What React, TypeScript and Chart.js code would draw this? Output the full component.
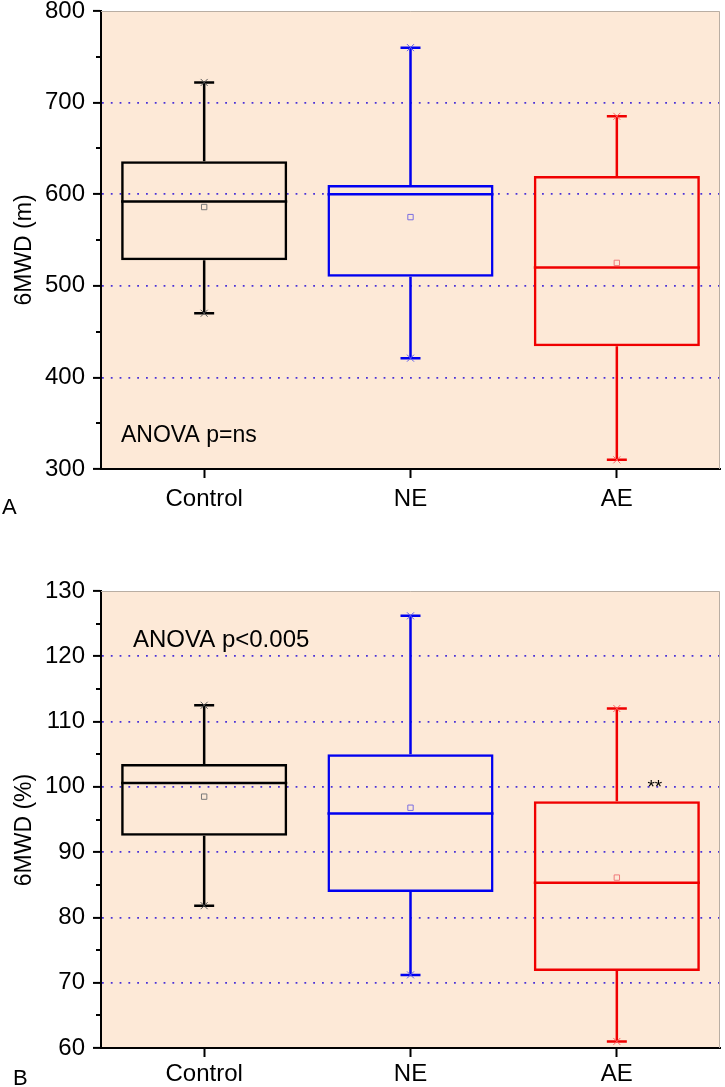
import React, { useEffect, useRef } from 'react';
import { Chart, registerables } from 'chart.js';
Chart.register(...registerables);

const FONT = '"Liberation Sans", Arial, Helvetica, sans-serif';
const PLOT_BG = '#FDE9D7';
const GRID_COLOR = '#4a32d8';
const FRAME_COLOR = '#b9aea3';

const categories = ['Control', 'NE', 'AE'];
const boxColors = ['#000000', '#0000f0', '#f00000'];
const meanColors = ['#7a7a7a', '#7a6ee0', '#f07a7a'];
const capMarkColors = ['#555555', '#5a5af0', '#ff6060'];

// Panel A: 6MWD (m)
const walkMin = [470, 421, 310];
const walkQ1 = [528, 510, 434];
const walkMedian = [592, 600, 520];
const walkQ3 = [636, 610, 620];
const walkMax = [722, 760, 685];
const walkMean = [586, 575, 525];

// Panel B: 6MWD (%)
const pctMin = [81.8, 71.2, 61];
const pctQ1 = [92.5, 83.9, 71.8];
const pctMedian = [100.6, 95.9, 85.3];
const pctQ3 = [103.5, 105, 97.8];
const pctMax = [112.5, 126.2, 112];
const pctMean = [98.5, 96.8, 86.1];

type Panel = {
  min: number[]; q1: number[]; median: number[]; q3: number[]; max: number[]; mean: number[];
  yMin: number; yMax: number; major: number; minor: number;
  yTitle: string; panelLabel: string; note: string; noteSize: number;
  star: string | null;
  height: number; padTop: number; xAxisHeight: number; xLabelPad: number;
  titleCenterY: number; labelX: number; labelBaseline: number; noteX: number; noteBaseline: number;
};

const panelA: Panel = {
  min: walkMin, q1: walkQ1, median: walkMedian, q3: walkQ3, max: walkMax, mean: walkMean,
  yMin: 300, yMax: 800, major: 100, minor: 50,
  yTitle: '6MWD (m)', panelLabel: 'A', note: 'ANOVA p=ns', noteSize: 23, star: null,
  height: 540, padTop: 11, xAxisHeight: 71, xLabelPad: 7,
  titleCenterY: 250, labelX: 2, labelBaseline: 514, noteX: 121, noteBaseline: 442,
};

const panelB: Panel = {
  min: pctMin, q1: pctQ1, median: pctMedian, q3: pctQ3, max: pctMax, mean: pctMean,
  yMin: 60, yMax: 130, major: 10, minor: 5,
  yTitle: '6MWD (%)', panelLabel: 'B', note: 'ANOVA p<0.005', noteSize: 24, star: '**',
  height: 547, padTop: 51, xAxisHeight: 39, xLabelPad: 3,
  titleCenterY: 290, labelX: 13, labelBaseline: 545, noteX: 133, noteBaseline: 107,
};

const isMajor = (v: number, p: Panel) => Math.abs(v / p.major - Math.round(v / p.major)) < 1e-6;

function makePlugin(p: Panel) {
  return {
    id: 'boxDecor',
    beforeDraw(chart: any) {
      const { ctx, chartArea: a } = chart;
      ctx.save();
      ctx.fillStyle = PLOT_BG;
      ctx.fillRect(a.left, a.top, a.right - a.left, a.bottom - a.top);
      ctx.restore();
    },
    afterDatasetsDraw(chart: any) {
      const ctx = chart.ctx;
      const ys = chart.scales.y;
      const meta = chart.getDatasetMeta(1);
      meta.data.forEach((bar: any, i: number) => {
        const { x, width } = bar.getProps(['x', 'width'], true);
        const yMed = ys.getPixelForValue(p.median[i]);
        const yQ1 = ys.getPixelForValue(p.q1[i]);
        const yQ3 = ys.getPixelForValue(p.q3[i]);
        const yMax = ys.getPixelForValue(p.max[i]);
        const yMin = ys.getPixelForValue(p.min[i]);
        ctx.save();
        ctx.strokeStyle = boxColors[i];
        ctx.lineWidth = 2.5;
        ctx.lineCap = 'butt';
        ctx.beginPath();
        ctx.moveTo(x - width / 2, yMed); ctx.lineTo(x + width / 2, yMed);
        ctx.moveTo(x, yQ3); ctx.lineTo(x, yMax);
        ctx.moveTo(x, yQ1); ctx.lineTo(x, yMin);
        ctx.moveTo(x - 10, yMax); ctx.lineTo(x + 10, yMax);
        ctx.moveTo(x - 10, yMin); ctx.lineTo(x + 10, yMin);
        ctx.stroke();
        ctx.strokeStyle = capMarkColors[i];
        ctx.lineWidth = 1;
        ctx.beginPath();
        [yMax, yMin].forEach((yy) => {
          ctx.moveTo(x - 3.5, yy - 3.5); ctx.lineTo(x + 3.5, yy + 3.5);
          ctx.moveTo(x - 3.5, yy + 3.5); ctx.lineTo(x + 3.5, yy - 3.5);
        });
        ctx.stroke();
        ctx.restore();
        if (p.star && i === 2) {
          ctx.save();
          ctx.fillStyle = '#000';
          ctx.font = `19px ${FONT}`;
          ctx.textAlign = 'center';
          ctx.textBaseline = 'alphabetic';
          ctx.fillText(p.star, x + 38, yQ3 - 8);
          ctx.restore();
        }
      });
    },
    afterDraw(chart: any) {
      const { ctx, chartArea: a } = chart;
      const ys = chart.scales.y;
      ctx.save();
      ctx.strokeStyle = FRAME_COLOR;
      ctx.lineWidth = 1;
      ctx.beginPath();
      ctx.moveTo(a.left, a.top + 0.5);
      ctx.lineTo(a.right - 0.5, a.top + 0.5);
      ctx.lineTo(a.right - 0.5, a.bottom);
      ctx.stroke();
      ctx.strokeStyle = '#000';
      ctx.lineWidth = 2;
      ctx.beginPath();
      ys.ticks.forEach((t: any) => {
        if (!isMajor(t.value, p)) {
          const yy = Math.round(ys.getPixelForValue(t.value));
          ctx.moveTo(a.left - 5, yy);
          ctx.lineTo(a.left, yy);
        }
      });
      ctx.stroke();
      ctx.fillStyle = '#000';
      ctx.font = `${p.noteSize}px ${FONT}`;
      ctx.textAlign = 'left';
      ctx.textBaseline = 'alphabetic';
      ctx.fillText(p.note, p.noteX, p.noteBaseline);
      ctx.font = `22px ${FONT}`;
      ctx.fillText(p.panelLabel, p.labelX, p.labelBaseline);
      ctx.translate(31, p.titleCenterY);
      ctx.rotate(-Math.PI / 2);
      ctx.font = `23px ${FONT}`;
      ctx.textAlign = 'center';
      ctx.fillText(p.yTitle, 0, 0);
      ctx.restore();
    },
  };
}

function BoxPanel({ p, top }: { p: Panel; top: number }) {
  const ref = useRef<HTMLCanvasElement | null>(null);
  useEffect(() => {
    if (!ref.current) return;
    const chart = new Chart(ref.current, {
      type: 'bar',
      data: {
        labels: categories,
        datasets: [
          {
            type: 'line',
            data: p.mean,
            showLine: false,
            pointStyle: 'rect',
            pointRadius: 3.8,
            pointBorderWidth: 1,
            pointBorderColor: meanColors,
            pointBackgroundColor: 'rgba(0,0,0,0)',
          } as any,
          {
            type: 'bar',
            data: p.q1.map((v, i) => [v, p.q3[i]]),
            backgroundColor: 'rgba(0,0,0,0)',
            borderColor: boxColors,
            borderWidth: 2.5,
            borderSkipped: false,
            barPercentage: 0.805,
            categoryPercentage: 1,
            inflateAmount: 0,
          } as any,
        ],
      },
      options: {
        responsive: false,
        animation: false,
        devicePixelRatio: 1,
        layout: { padding: { top: p.padTop, right: 2, left: 0, bottom: 0 } },
        plugins: { legend: { display: false }, tooltip: { enabled: false } },
        scales: {
          x: {
            type: 'category',
            offset: true,
            afterFit: (s: any) => {
              s.height = p.xAxisHeight;
              s.paddingLeft = 0; s.paddingRight = 0; s.paddingTop = 0; s.paddingBottom = 0;
            },
            ticks: { color: '#000', font: { size: 24, family: FONT }, padding: p.xLabelPad, maxRotation: 0 },
            grid: {
              display: true, drawOnChartArea: false, drawTicks: true, offset: false,
              tickLength: 9, tickColor: '#000', tickWidth: 2,
            },
            border: { display: true, color: '#000', width: 2 },
          },
          y: {
            type: 'linear',
            min: p.yMin,
            max: p.yMax,
            afterFit: (s: any) => {
              s.width = 101;
              s.paddingTop = 0; s.paddingBottom = 0; s.paddingLeft = 0; s.paddingRight = 0;
            },
            ticks: {
              stepSize: p.minor,
              autoSkip: false,
              color: '#000',
              font: { size: 24, family: FONT },
              padding: 8,
              callback: (v: any) => (isMajor(Number(v), p) ? String(v) : ''),
            },
            grid: {
              display: true,
              drawOnChartArea: true,
              drawTicks: true,
              tickLength: 8,
              lineWidth: 1.8,
              tickWidth: 2,
              color: (c: any) => {
                const v = c.tick ? c.tick.value : NaN;
                return isMajor(v, p) && v !== p.yMin && v !== p.yMax ? GRID_COLOR : 'rgba(0,0,0,0)';
              },
              tickColor: (c: any) => {
                const v = c.tick ? c.tick.value : NaN;
                return isMajor(v, p) ? '#000' : 'rgba(0,0,0,0)';
              },
            },
            border: { display: true, color: '#000', width: 2, dash: [1.8, 7] },
          },
        },
      },
      plugins: [makePlugin(p)],
    } as any);
    return () => chart.destroy();
  }, [p]);
  return (
    <canvas
      ref={ref}
      width={725}
      height={p.height}
      style={{ position: 'absolute', left: 0, top, width: 725, height: p.height, display: 'block' }}
    />
  );
}

export default function App() {
  return (
    <div style={{ position: 'absolute', left: 0, top: 0, width: 725, height: 1087, background: '#fff', overflow: 'hidden' }}>
      <BoxPanel p={panelA} top={0} />
      <BoxPanel p={panelB} top={540} />
    </div>
  );
}
